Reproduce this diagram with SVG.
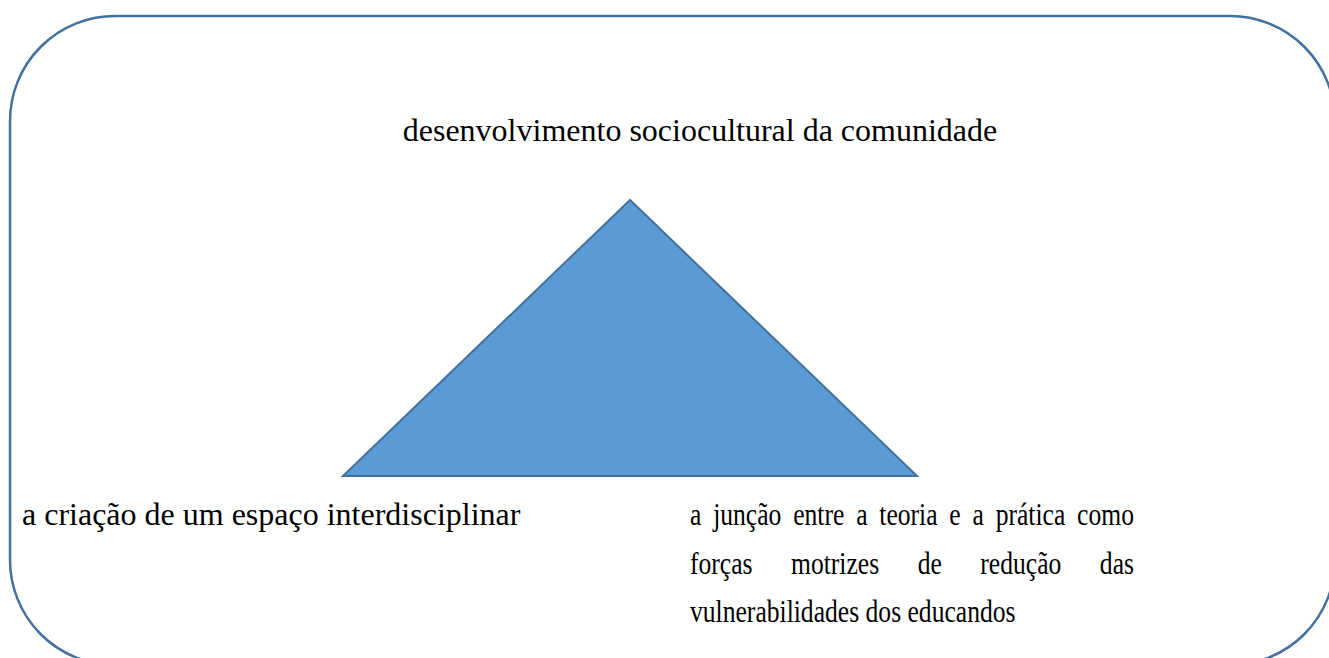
<svg xmlns="http://www.w3.org/2000/svg" width="1329" height="658" viewBox="0 0 1329 658">
<style>
text{font-family:'Liberation Serif','Times New Roman',serif;font-size:32px;fill:#000}
</style>
<rect width="1329" height="658" fill="#fff"/>
<g id="frame"><rect x="10" y="16" width="1325" height="649" rx="105" ry="105" fill="none" stroke="#41719C" stroke-width="2.5"/></g>
<g id="triangle"><polygon points="630,200 343,476 917,476" fill="#5B9BD5" stroke="#41719C" stroke-width="2"/></g>
<g id="top-label"><text x="700" y="141" text-anchor="middle">desenvolvimento sociocultural da comunidade</text></g>
<g id="left-label"><text x="22" y="525">a criação de um espaço interdisciplinar</text></g>
<g id="right-label" transform="translate(690 0) scale(0.8 1)">
<text y="525"><tspan x="0">a</tspan><tspan x="28.94">junção</tspan><tspan x="128.98">entre</tspan><tspan x="207.68">a</tspan><tspan x="236.62">teoria</tspan><tspan x="324.21">e</tspan><tspan x="353.15">a</tspan><tspan x="382.09">prática</tspan><tspan x="483.89">como</tspan></text>
<text y="574"><tspan x="0">forças</tspan><tspan x="126.29">motrizes</tspan><tspan x="284.62">de</tspan><tspan x="362.95">redução</tspan><tspan x="512.35">das</tspan></text>
<text x="0" y="622">vulnerabilidades dos educandos</text>
</g>
</svg>
